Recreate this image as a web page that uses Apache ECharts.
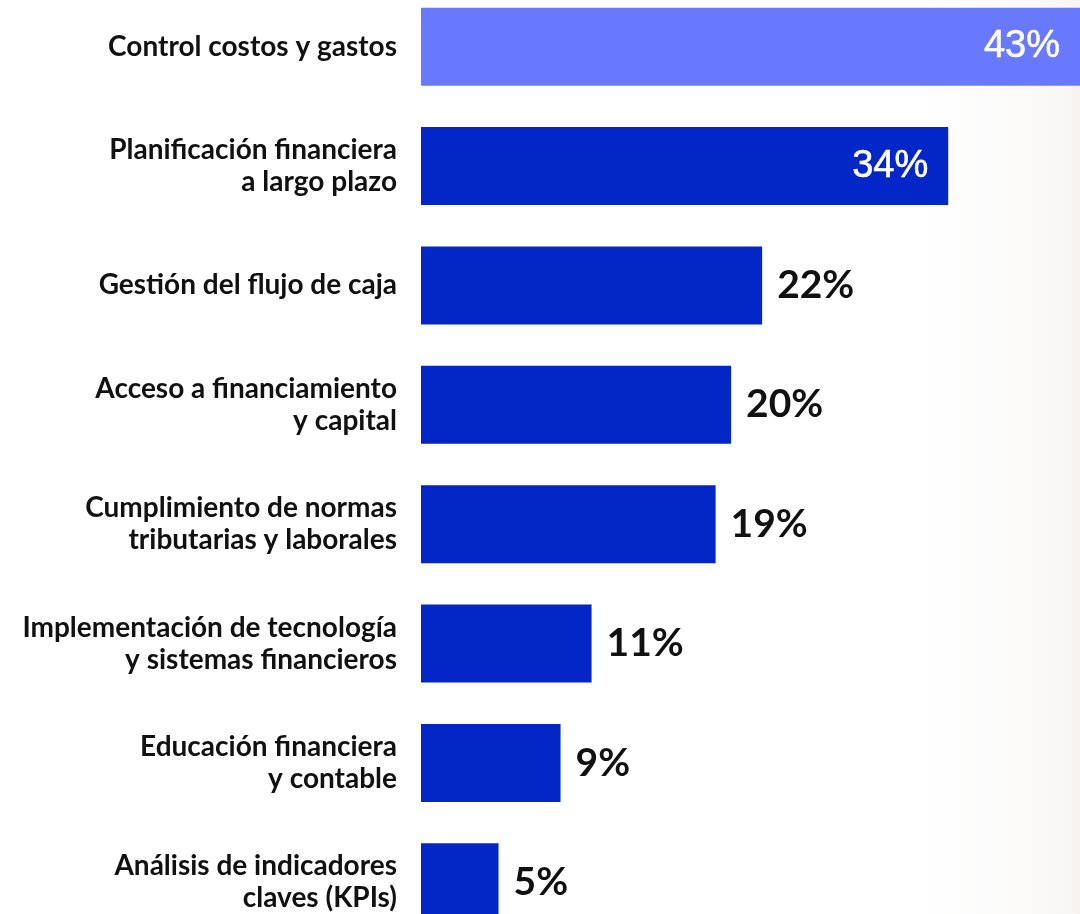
<!DOCTYPE html>
<html>
<head>
<meta charset="utf-8">
<script src="https://cdn.jsdelivr.net/npm/echarts@6/dist/echarts.min.js"></script>
<style>
html,body{margin:0;padding:0;background:#fff;}
#main{width:1080px;height:914px;}
</style>
</head>
<body>
<div id="main"></div>
<script>
const categories = [
  'Control costos y gastos',
  'Planificación financiera\na largo plazo',
  'Gestión del flujo de caja',
  'Acceso a financiamiento\ny capital',
  'Cumplimiento de normas\ntributarias y laborales',
  'Implementación de tecnología\ny sistemas financieros',
  'Educación financiera\ny contable',
  'Análisis de indicadores\nclaves (KPIs)'
];
const values = [43, 34, 22, 20, 19, 11, 9, 5];
const barColors = ['#6878FF', '#0327C6', '#0327C6', '#0327C6', '#0327C6', '#0327C6', '#0327C6', '#0327C6'];
const insideLabel = [true, true, false, false, false, false, false, false];

const chart = echarts.init(document.getElementById('main'), null, {renderer: 'canvas'});

const data = values.map((v, i) => ({
  value: v,
  itemStyle: {color: barColors[i]},
  label: insideLabel[i] ? {
    position: 'insideRight',
    distance: 20,
    color: '#ffffff',
    fontFamily: 'Liberation Sans, Arial, sans-serif',
    fontWeight: 'normal',
    fontSize: 38,
    textBorderColor: '#ffffff',
    textBorderWidth: 0.6
  } : {
    position: 'right',
    distance: 15,
    color: '#111111',
    fontFamily: 'Lato, sans-serif',
    fontWeight: 'bold',
    fontSize: 39
  }
}));

chart.setOption({
  animation: false,
  backgroundColor: '#ffffff',
  graphic: [{
    type: 'rect',
    z: -10,
    silent: true,
    shape: {x: 920, y: 0, width: 160, height: 914},
    style: {
      fill: new echarts.graphic.LinearGradient(0, 0, 1, 0, [
        {offset: 0, color: 'rgba(244,240,237,0)'},
        {offset: 0.7, color: 'rgba(244,240,237,0.3)'},
        {offset: 1, color: 'rgba(240,234,230,0.55)'}
      ])
    }
  }],
  grid: {left: 421, right: 0, top: -13, height: 955, containLabel: false, outerBoundsMode: 'none'},
  xAxis: {
    type: 'value',
    min: 0,
    max: 42.5,
    show: false
  },
  yAxis: {
    type: 'category',
    data: categories,
    inverse: true,
    axisLine: {show: false},
    axisTick: {show: false},
    splitLine: {show: false},
    axisLabel: {
      margin: 24,
      color: '#111111',
      fontFamily: 'Lato, sans-serif',
      fontWeight: 'bold',
      fontSize: 28,
      lineHeight: 32,
      align: 'right',
      padding: [4, 0, 0, 0]
    }
  },
  series: [{
    type: 'bar',
    data: data,
    barWidth: 78,
    clip: true,
    label: {show: true, formatter: '{c}%'}
  }]
});
</script>
</body>
</html>
